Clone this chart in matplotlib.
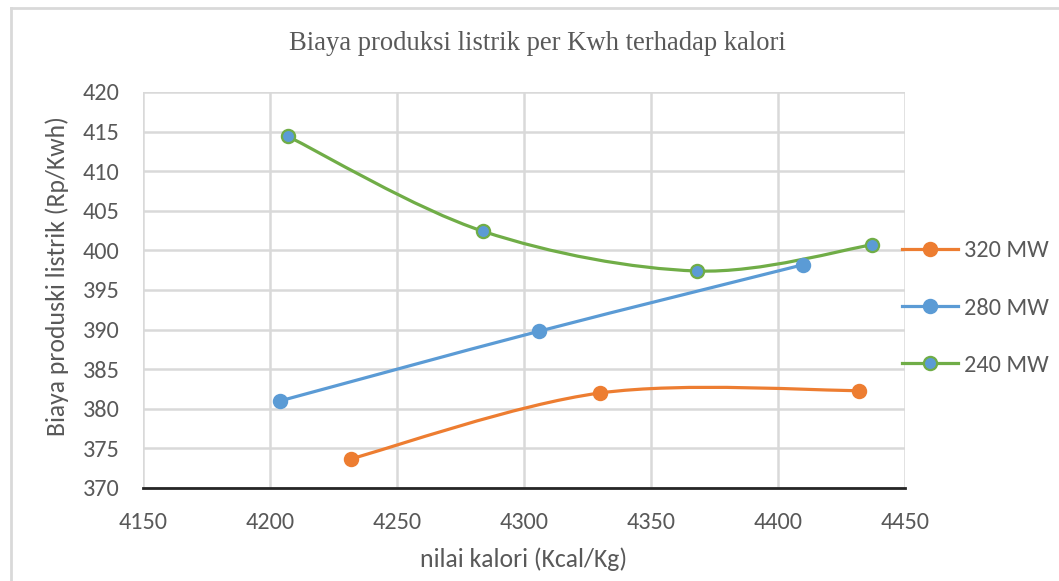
import numpy as np
import matplotlib
matplotlib.use('Agg')
import matplotlib.pyplot as plt
from matplotlib.path import Path
from matplotlib.patches import PathPatch
from matplotlib.lines import Line2D
from matplotlib import font_manager


# Data
#############################

kal_320 = [4232, 4330, 4432]
biaya_320 = [373.7, 382.0, 382.3]

kal_280 = [4204, 4306, 4410]
biaya_280 = [381.0, 389.8, 398.2]

kal_240 = [4207, 4284, 4368, 4437]
biaya_240 = [414.4, 402.4, 397.4, 400.7]

labels = ['320 MW', '280 MW', '240 MW']
colors = ['#ED7D31', '#5B9BD5', '#70AD47']
face_colors = ['#ED7D31', '#5B9BD5', '#5B9BD5']

x_ticks = [4150, 4200, 4250, 4300, 4350, 4400, 4450]
y_ticks = [370, 375, 380, 385, 390, 395, 400, 405, 410, 415, 420]


def pick_font(names):
    for n in names:
        try:
            font_manager.findfont(n, fallback_to_default=False)
            return n
        except ValueError:
            continue
    return 'DejaVu Sans'


sans = pick_font(['Carlito', 'Lato', 'Open Sans'])
serif = pick_font(['Liberation Serif', 'DejaVu Serif'])
grey = '#595959'


def smooth_path(xs, ys):
    # Excel-style smoothed line: cubic Bezier through the points
    p = np.column_stack([xs, ys]).astype(float)
    n = len(p)
    verts = [p[0]]
    codes = [Path.MOVETO]
    for i in range(n - 1):
        prev = p[i - 1] if i > 0 else p[i]
        nxt = p[i + 2] if i + 2 < n else p[i + 1]
        c1 = p[i] + (p[i + 1] - prev) / 6.0
        c2 = p[i + 1] - (nxt - p[i]) / 6.0
        verts += [c1, c2, p[i + 1]]
        codes += [Path.CURVE4] * 3
    return Path(verts, codes)


fig = plt.figure(figsize=(10.59, 5.81), dpi=100)
ax = fig.add_axes([143 / 1059, 93 / 581, 762 / 1059, 396 / 581])

series = [(kal_320, biaya_320), (kal_280, biaya_280), (kal_240, biaya_240)]
handles = []
for (xs, ys), lab, col, fc in zip(series, labels, colors, face_colors):
    ax.add_patch(PathPatch(smooth_path(xs, ys), facecolor='none',
                           edgecolor=col, lw=2.3, zorder=3,
                           capstyle='round'))
    ax.plot(xs, ys, ls='none', marker='o', ms=9.5, mfc=fc, mec=col,
            mew=1.6, zorder=4)
    handles.append(Line2D([], [], color=col, lw=2.3, marker='o', ms=9.5,
                          mfc=fc, mec=col, mew=1.6, label=lab))

ax.set_xlim(4150, 4450)
ax.set_ylim(370, 420)
ax.set_xticks(x_ticks)
ax.set_yticks(y_ticks)
ax.grid(True, color='#d9d9d9', lw=1.8)
ax.set_axisbelow(True)
for s in ['left', 'right', 'top']:
    ax.spines[s].set_visible(False)
ax.spines['bottom'].set_color('#262626')
ax.spines['bottom'].set_linewidth(2)
ax.spines['bottom'].set_zorder(5)
ax.tick_params(length=0)
ax.tick_params(axis='y', pad=17, labelsize=17.5, labelcolor=grey)
ax.tick_params(axis='x', pad=17, labelsize=17.5, labelcolor=grey)
for t in ax.get_yticklabels() + ax.get_xticklabels():
    t.set_family(sans)

ax.set_xlabel('nilai kalori (Kcal/Kg)', family=sans, fontsize=18.5,
              color=grey, labelpad=11)
ax.set_ylabel('Biaya produski listrik (Rp/Kwh)', family=sans, fontsize=18.5,
              color=grey, labelpad=10)
ax.yaxis.label.set_y(0.535)
fig.text(537 / 1059, 1 - 44 / 581,
         'Biaya produksi listrik per Kwh terhadap kalori',
         family=serif, fontsize=19.2, color=grey, ha='center', va='center')

leg = ax.legend(handles=handles, loc='center left',
                bbox_to_anchor=(0.996, 0.4545), frameon=False,
                prop={'family': sans, 'size': 17.5}, labelspacing=1.5,
                handlelength=2.3, handletextpad=0.25, borderaxespad=0,
                borderpad=0)
for t in leg.get_texts():
    t.set_color(grey)

# chart area border (top and left edges only are visible)
fig.add_artist(Line2D([11 / 1059, 11 / 1059], [0, 1 - 8 / 581],
                      transform=fig.transFigure, color='#d9d9d9', lw=2))
fig.add_artist(Line2D([11 / 1059, 1], [1 - 8 / 581, 1 - 8 / 581],
                      transform=fig.transFigure, color='#d9d9d9', lw=2))

fig.savefig('out.png', dpi=100)
